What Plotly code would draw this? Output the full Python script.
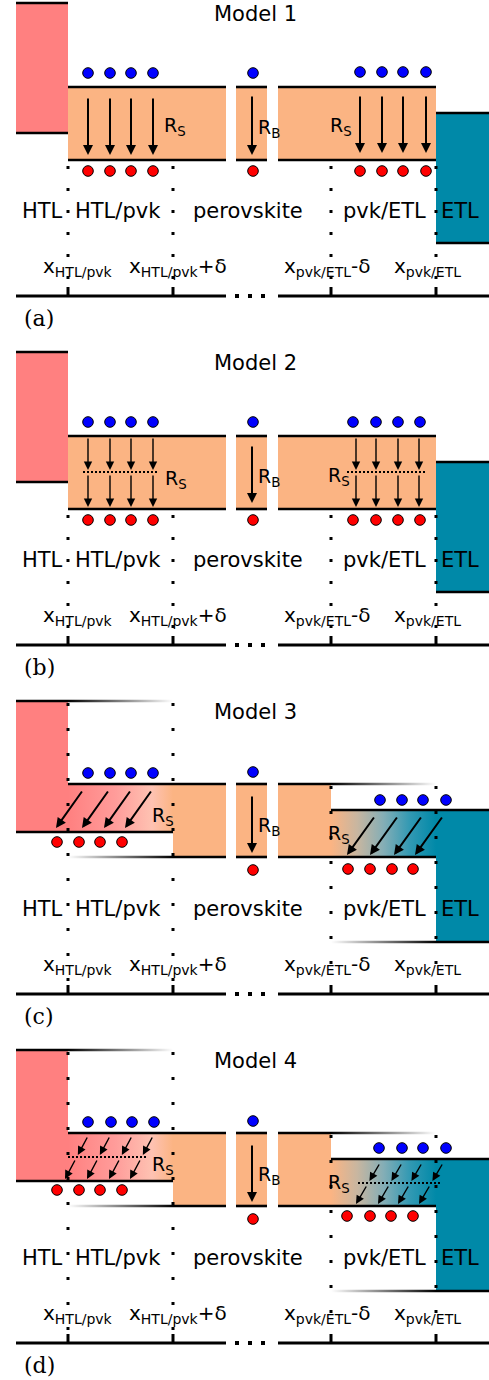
import plotly.graph_objects as go

W, H = 489, 1380

# ---------------- data ----------------
MODEL_TITLES = ["Model 1", "Model 2", "Model 3", "Model 4"]
PANEL_TAGS = ["(a)", "(b)", "(c)", "(d)"]
PANEL_Y0 = [0, 349, 698, 1047]

REGION_LABELS = ["HTL", "HTL/pvk", "perovskite", "pvk/ETL", "ETL"]
REGION_LABEL_X = [42, 118, 248, 384, 460]
POS_LABELS = ["x<sub>HTL/pvk</sub>", "x<sub>HTL/pvk</sub>+δ",
              "x<sub>pvk/ETL</sub>-δ", "x<sub>pvk/ETL</sub>"]
POS_LABEL_X = [78, 178, 327, 427]
INTERFACE_X = [68, 173, 331, 436]

HTL_X = [16, 68]
PVK_X = [[68, 226], [236, 267], [278, 436]]
ETL_X = [436, 489]
AXIS_X = [[16, 226], [278, 489]]
BREAK_DOTS_X = [237, 250, 263]

# band edges (panel-relative y) - models 1 & 2
HTL_Y = [3, 133]
PVK_Y = [87, 160]
ETL_Y = [113, 243]
# band edges - models 3 & 4
HTL_Y_34 = [3, 134]
PVK_Y_34 = [86, 159]
ETL_Y_34 = [112, 244]

# carriers (electrons blue, holes red), per model
E_LEFT_X = [[88, 110, 131, 153], [88, 110, 131, 153], [88, 110, 131, 153], [88, 111, 132, 154]]
E_LEFT_Y = [73, 73, 75, 75]
H_LEFT_X = [[88, 110, 131, 153], [88, 110, 131, 153], [57, 79, 100, 122], [57, 79, 100, 122]]
H_LEFT_Y = [171, 171, 144, 143]
E_RIGHT_X = [[360, 382, 403, 426], [353, 376, 398, 420], [380, 402, 423, 446], [379, 402, 423, 446]]
E_RIGHT_Y = [72, 73, 102, 101]
H_RIGHT_X = [[360, 382, 403, 426], [353, 376, 398, 420], [348, 370, 392, 413], [347, 370, 391, 413]]
H_RIGHT_Y = [171, 171, 171, 169]
BULK_X = 253
BULK_E_Y = [73, 73, 74, 74]
BULK_H_Y = [171, 171, 172, 172]

# recombination arrows
ARROW_L_X = [[88, 110, 131, 153], [88, 110, 131, 153], [83, 109, 131, 152], [88, 110, 132, 153]]
ARROW_L_Y = [[97, 155], [88, 158], [92, 130], [89, 132]]
ARROW_L_DX = [0, 0, -27, -23]
ARROW_R_X = [[360, 382, 403, 426], [356, 376, 398, 419], [375, 398, 422, 443], [380, 402, 422, 443]]
ARROW_R_Y = [[95, 153], [88, 158], [118, 157], [116, 157]]
ARROW_R_DX = [0, 0, -28, -24]
ARROW_B_X = 252
ARROW_B_Y = [[95, 155], [96, 154], [97, 155], [97, 155]]
SPLIT_L = [None, [123, 83, 157], None, [110, 68, 148]]
SPLIT_R = [None, [123, 347, 425], None, [136, 358, 440]]

RS_LEFT = [[162, 123], [163, 127], [150, 115], [150, 115]]
RS_RIGHT = [[328, 123], [326, 124], [326, 133], [326, 133]]
RB_POS = [256, 125]

HTL_RED = "#FF8080"
PVK_ORANGE = "#FBB483"
ETL_TEAL = "#0089A8"
E_BLUE = "#0000FF"
H_RED = "#FF0000"
GRAD_HTL = [[0, HTL_RED], [0.45, "#FF9C9A"], [0.8, "#FEC2B2"], [1, PVK_ORANGE]]
GRAD_ETL = [[0, PVK_ORANGE], [0.25, "#C8B6A0"], [0.5, "#84AEB6"], [0.75, "#3299B3"], [1, ETL_TEAL]]

# ---------------- helpers ----------------
shapes, annotations, traces = [], [], []


def hline(x0, x1, y, width=2.6):
    shapes.append(dict(type="line", x0=x0, x1=x1, y0=y, y1=y,
                       line=dict(color="black", width=width), layer="above"))


def vline(x, y0, y1, width=3, dash="solid"):
    shapes.append(dict(type="line", x0=x, x1=x, y0=y0, y1=y1,
                       line=dict(color="black", width=width, dash=dash), layer="above"))


def rect(x0, x1, y0, y1, color):
    shapes.append(dict(type="rect", x0=x0, x1=x1, y0=y0, y1=y1,
                       fillcolor=color, line=dict(width=0), layer="below"))


def grad_poly(x0, x1, y0, y1, cs):
    traces.append(go.Scatter(x=[x0, x1, x1, x0, x0], y=[y0, y0, y1, y1, y0],
                             mode="lines", line=dict(width=0), fill="toself",
                             fillgradient=dict(type="horizontal", colorscale=cs),
                             hoverinfo="skip", showlegend=False))


def grad_line(x0, x1, y, fade_right=True):
    dark, light = "rgba(0,0,0,1)", "rgba(0,0,0,0)"
    cs = [[0, dark], [1, light]] if fade_right else [[0, light], [1, dark]]
    grad_poly(x0, x1, y - 1.3, y + 1.3, cs)


def dot(cx, cy, color, r=5.3):
    shapes.append(dict(type="circle", x0=cx - r, x1=cx + r, y0=cy - r, y1=cy + r,
                       fillcolor=color, line=dict(color="black", width=1), layer="above"))


def arrow(tx, ty, hx, hy, width=2.0, size=1.0):
    annotations.append(dict(x=hx, y=hy, ax=tx, ay=ty, xref="x", yref="y",
                            axref="x", ayref="y", text="", showarrow=True,
                            arrowhead=2, arrowsize=size, arrowwidth=width,
                            arrowcolor="black", standoff=0, startstandoff=0))


def text(x, y, s, size, family="DejaVu Sans", xanchor="center"):
    annotations.append(dict(x=x, y=y, xref="x", yref="y", text=s, showarrow=False,
                            font=dict(family=family, size=size, color="black"),
                            xanchor=xanchor, yanchor="middle"))


# ---------------- panels ----------------
for p in range(4):
    o = PANEL_Y0[p]
    graded = p >= 2

    text(255, o + 14, MODEL_TITLES[p], 21)
    text(39, o + 318, PANEL_TAGS[p], 22, family="DejaVu Serif")
    for lab, lx in zip(REGION_LABELS, REGION_LABEL_X):
        text(lx, o + 211, lab, 21)
    for lab, lx in zip(POS_LABELS, POS_LABEL_X):
        text(lx, o + 267, lab, 20)

    # position axis
    for ax0, ax1 in AXIS_X:
        hline(ax0, ax1, o + 296, 3)
    for ix in INTERFACE_X:
        vline(ix, o + 287, o + 297, 3)
    for bx in BREAK_DOTS_X:
        shapes.append(dict(type="rect", x0=bx - 2, x1=bx + 2, y0=o + 294, y1=o + 298,
                           fillcolor="black", line=dict(width=0), layer="above"))

    if not graded:
        rect(HTL_X[0], HTL_X[1], o + HTL_Y[0], o + HTL_Y[1], HTL_RED)
        hline(HTL_X[0], HTL_X[1], o + HTL_Y[0])
        hline(HTL_X[0], HTL_X[1], o + HTL_Y[1])
        for sx0, sx1 in PVK_X:
            rect(sx0, sx1, o + PVK_Y[0], o + PVK_Y[1], PVK_ORANGE)
            hline(sx0, sx1, o + PVK_Y[0])
            hline(sx0, sx1, o + PVK_Y[1])
        rect(ETL_X[0], ETL_X[1], o + ETL_Y[0], o + ETL_Y[1], ETL_TEAL)
        hline(ETL_X[0], ETL_X[1], o + ETL_Y[0])
        hline(ETL_X[0], ETL_X[1], o + ETL_Y[1])
        for ix in INTERFACE_X:
            vline(ix, o + 166, o + 288, 3, dash="3px,19px")
    else:
        xa, xb, xc, xd = INTERFACE_X
        rect(HTL_X[0], HTL_X[1], o + HTL_Y_34[0], o + HTL_Y_34[1], HTL_RED)
        grad_poly(xa, xb, o + PVK_Y_34[0], o + HTL_Y_34[1], GRAD_HTL)
        rect(xb, PVK_X[0][1], o + PVK_Y_34[0], o + PVK_Y_34[1], PVK_ORANGE)
        rect(PVK_X[1][0], PVK_X[1][1], o + PVK_Y_34[0], o + PVK_Y_34[1], PVK_ORANGE)
        rect(PVK_X[2][0], xc, o + PVK_Y_34[0], o + PVK_Y_34[1], PVK_ORANGE)
        grad_poly(xc, xd, o + ETL_Y_34[0], o + PVK_Y_34[1], GRAD_ETL)
        rect(ETL_X[0], ETL_X[1], o + ETL_Y_34[0], o + ETL_Y_34[1], ETL_TEAL)

        hline(HTL_X[0], xa, o + HTL_Y_34[0])
        grad_line(xa, xb, o + HTL_Y_34[0], fade_right=True)
        hline(xa, PVK_X[0][1], o + PVK_Y_34[0])
        hline(HTL_X[0], xb, o + HTL_Y_34[1])
        grad_line(xa, xb, o + PVK_Y_34[1], fade_right=False)
        hline(xb, PVK_X[0][1], o + PVK_Y_34[1])
        hline(PVK_X[1][0], PVK_X[1][1], o + PVK_Y_34[0])
        hline(PVK_X[1][0], PVK_X[1][1], o + PVK_Y_34[1])
        hline(PVK_X[2][0], xc, o + PVK_Y_34[0])
        grad_line(xc, xd, o + PVK_Y_34[0], fade_right=True)
        hline(PVK_X[2][0], xd, o + PVK_Y_34[1])
        hline(xc, ETL_X[1], o + ETL_Y_34[0])
        grad_line(xc, xd, o + ETL_Y_34[1], fade_right=False)
        hline(xd, ETL_X[1], o + ETL_Y_34[1])
        vline(xa, o + 5, o + 288, 3, dash="3px,22px")
        vline(xb, o + 5, o + 288, 3, dash="3px,22px")
        vline(xc, o + 88, o + 288, 3, dash="3px,22px")
        vline(xd, o + 88, o + 288, 3, dash="3px,22px")

    # carriers
    for x in E_LEFT_X[p]:
        dot(x, o + E_LEFT_Y[p], E_BLUE)
    for x in H_LEFT_X[p]:
        dot(x, o + H_LEFT_Y[p], H_RED)
    for x in E_RIGHT_X[p]:
        dot(x, o + E_RIGHT_Y[p], E_BLUE)
    for x in H_RIGHT_X[p]:
        dot(x, o + H_RIGHT_Y[p], H_RED)
    dot(BULK_X, o + BULK_E_Y[p], E_BLUE)
    dot(BULK_X, o + BULK_H_Y[p], H_RED)

    # recombination arrows
    arrow(ARROW_B_X, o + ARROW_B_Y[p][0], ARROW_B_X, o + ARROW_B_Y[p][1])
    for xs_list, (y0, y1), dx, sp in ((ARROW_L_X[p], ARROW_L_Y[p], ARROW_L_DX[p], SPLIT_L[p]),
                                      (ARROW_R_X[p], ARROW_R_Y[p], ARROW_R_DX[p], SPLIT_R[p])):
        for xs in xs_list:
            if sp is None:
                arrow(xs, o + y0, xs + dx, o + y1)
            else:
                ys = sp[0]
                ya, yb = ys - 2, ys + 2
                fa = (ya - y0) / (y1 - y0)
                fb = (yb - y0) / (y1 - y0)
                arrow(xs, o + y0, xs + dx * fa, o + ya, width=1.4, size=1.2)
                arrow(xs + dx * fb, o + yb, xs + dx, o + y1, width=1.4, size=1.2)
        if sp is not None:
            shapes.append(dict(type="line", x0=sp[1], x1=sp[2], y0=o + sp[0], y1=o + sp[0],
                               line=dict(color="black", width=2, dash="2px,2px"), layer="above"))

    text(RS_LEFT[p][0], o + RS_LEFT[p][1] + 3, "R<sub>S</sub>", 19, xanchor="left")
    text(RS_RIGHT[p][0], o + RS_RIGHT[p][1] + 3, "R<sub>S</sub>", 19, xanchor="left")
    text(RB_POS[0], o + RB_POS[1] + 3, "R<sub>B</sub>", 19, xanchor="left")

fig = go.Figure(traces)
fig.update_layout(width=W, height=H, margin=dict(l=0, r=0, t=0, b=0),
                  plot_bgcolor="white", paper_bgcolor="white",
                  shapes=shapes, annotations=annotations, showlegend=False)
fig.update_xaxes(range=[0, W], visible=False, fixedrange=True)
fig.update_yaxes(range=[H, 0], visible=False, fixedrange=True)
fig.write_html("out.html", config={"displayModeBar": False},
               post_script="document.body.style.margin='0';document.body.style.overflow='hidden';")
